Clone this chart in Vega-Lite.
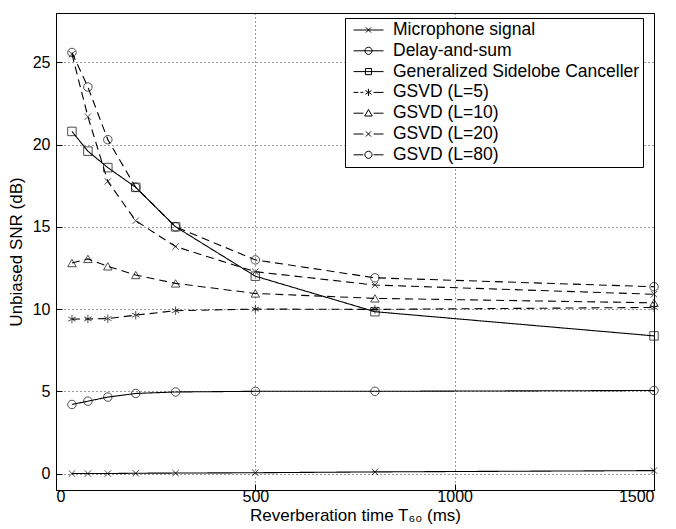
{
  "$schema": "https://vega.github.io/schema/vega-lite/v6.json",
  "width": 598,
  "height": 477,
  "autosize": {"type": "none"},
  "padding": {"left": 56, "top": 13, "right": 22, "bottom": 39},
  "background": "white",
  "config": {
    "view": {"stroke": "black", "strokeWidth": 1},
    "font": "Liberation Sans",
    "axis": {
      "labelFont": "Liberation Sans",
      "labelFontSize": 16,
      "labelColor": "black",
      "titleFont": "Liberation Sans",
      "titleFontSize": 17,
      "titleFontWeight": "normal",
      "titleColor": "black",
      "domainColor": "black",
      "tickColor": "black",
      "tickSize": -6,
      "labelPadding": 12,
      "grid": true,
      "gridColor": "black",
      "gridDash": [1, 3],
      "gridOpacity": 0.8,
      "gridWidth": 1
    },
    "legend": {
      "labelFont": "Liberation Sans",
      "labelFontSize": 17.5,
      "labelColor": "black",
      "labelLimit": 400
    }
  },
  "data": {
    "values": [
      {"series": "Microphone signal", "t": 40, "snr": 0.0},
      {"series": "Microphone signal", "t": 80, "snr": 0.0},
      {"series": "Microphone signal", "t": 130, "snr": 0.0},
      {"series": "Microphone signal", "t": 200, "snr": 0.02},
      {"series": "Microphone signal", "t": 300, "snr": 0.03},
      {"series": "Microphone signal", "t": 500, "snr": 0.05},
      {"series": "Microphone signal", "t": 800, "snr": 0.1},
      {"series": "Microphone signal", "t": 1500, "snr": 0.18},
      {"series": "Delay-and-sum", "t": 40, "snr": 4.2},
      {"series": "Delay-and-sum", "t": 80, "snr": 4.4},
      {"series": "Delay-and-sum", "t": 130, "snr": 4.65},
      {"series": "Delay-and-sum", "t": 200, "snr": 4.87},
      {"series": "Delay-and-sum", "t": 300, "snr": 4.96},
      {"series": "Delay-and-sum", "t": 500, "snr": 5.0},
      {"series": "Delay-and-sum", "t": 800, "snr": 5.0},
      {"series": "Delay-and-sum", "t": 1500, "snr": 5.05},
      {"series": "Generalized Sidelobe Canceller", "t": 40, "snr": 20.8},
      {"series": "Generalized Sidelobe Canceller", "t": 80, "snr": 19.6},
      {"series": "Generalized Sidelobe Canceller", "t": 130, "snr": 18.6},
      {"series": "Generalized Sidelobe Canceller", "t": 200, "snr": 17.4},
      {"series": "Generalized Sidelobe Canceller", "t": 300, "snr": 15.0},
      {"series": "Generalized Sidelobe Canceller", "t": 500, "snr": 12.0},
      {"series": "Generalized Sidelobe Canceller", "t": 800, "snr": 9.84},
      {"series": "Generalized Sidelobe Canceller", "t": 1500, "snr": 8.37},
      {"series": "GSVD (L=5)", "t": 40, "snr": 9.39},
      {"series": "GSVD (L=5)", "t": 80, "snr": 9.4},
      {"series": "GSVD (L=5)", "t": 130, "snr": 9.42},
      {"series": "GSVD (L=5)", "t": 200, "snr": 9.63},
      {"series": "GSVD (L=5)", "t": 300, "snr": 9.9},
      {"series": "GSVD (L=5)", "t": 500, "snr": 10.0},
      {"series": "GSVD (L=5)", "t": 800, "snr": 9.98},
      {"series": "GSVD (L=5)", "t": 1500, "snr": 10.1},
      {"series": "GSVD (L=10)", "t": 40, "snr": 12.8},
      {"series": "GSVD (L=10)", "t": 80, "snr": 13.05},
      {"series": "GSVD (L=10)", "t": 130, "snr": 12.6},
      {"series": "GSVD (L=10)", "t": 200, "snr": 12.07},
      {"series": "GSVD (L=10)", "t": 300, "snr": 11.56},
      {"series": "GSVD (L=10)", "t": 500, "snr": 10.95},
      {"series": "GSVD (L=10)", "t": 800, "snr": 10.65},
      {"series": "GSVD (L=10)", "t": 1500, "snr": 10.38},
      {"series": "GSVD (L=20)", "t": 40, "snr": 25.5},
      {"series": "GSVD (L=20)", "t": 80, "snr": 21.7},
      {"series": "GSVD (L=20)", "t": 130, "snr": 17.76},
      {"series": "GSVD (L=20)", "t": 200, "snr": 15.37},
      {"series": "GSVD (L=20)", "t": 300, "snr": 13.8},
      {"series": "GSVD (L=20)", "t": 500, "snr": 12.27},
      {"series": "GSVD (L=20)", "t": 800, "snr": 11.46},
      {"series": "GSVD (L=20)", "t": 1500, "snr": 10.9},
      {"series": "GSVD (L=80)", "t": 40, "snr": 25.6},
      {"series": "GSVD (L=80)", "t": 80, "snr": 23.5},
      {"series": "GSVD (L=80)", "t": 130, "snr": 20.3},
      {"series": "GSVD (L=80)", "t": 200, "snr": 17.4},
      {"series": "GSVD (L=80)", "t": 300, "snr": 15.0},
      {"series": "GSVD (L=80)", "t": 500, "snr": 12.99},
      {"series": "GSVD (L=80)", "t": 800, "snr": 11.9},
      {"series": "GSVD (L=80)", "t": 1500, "snr": 11.36}
    ]
  },
  "encoding": {
    "x": {
      "field": "t", "type": "quantitative",
      "scale": {"domain": [0, 1500], "nice": false},
      "axis": {"values": [0, 500, 1000, 1500], "format": "d", "title": "Reverberation time T₆₀ (ms)", "titleY": 30, "titleBaseline": "alphabetic", "labelPadding": 4}
    },
    "y": {
      "field": "snr", "type": "quantitative",
      "scale": {"domain": [-1, 28], "nice": false, "zero": false},
      "axis": {"values": [0, 5, 10, 15, 20, 25], "title": "Unbiased SNR (dB)", "titlePadding": 7}
    }
  },
  "layer": [
    {
      "mark": {"type": "line", "color": "black", "strokeWidth": 1.1},
      "encoding": {
        "detail": {"field": "series"},
        "strokeDash": {
          "field": "series",
          "scale": {
            "domain": ["Microphone signal", "Delay-and-sum", "Generalized Sidelobe Canceller", "GSVD (L=5)", "GSVD (L=10)", "GSVD (L=20)", "GSVD (L=80)"],
            "range": [[1, 0], [1, 0], [1, 0], [8, 5], [8, 5], [8, 5], [8, 5]]
          },
          "legend": null
        }
      }
    },
    {
      "mark": {"type": "point", "filled": false, "color": "black", "strokeWidth": 1, "size": 72},
      "encoding": {
        "shape": {
          "field": "series",
          "scale": {
            "domain": ["Microphone signal", "Delay-and-sum", "Generalized Sidelobe Canceller", "GSVD (L=5)", "GSVD (L=10)", "GSVD (L=20)", "GSVD (L=80)"],
            "range": ["M-0.75,-0.75L0.75,0.75M-0.75,0.75L0.75,-0.75", "circle", "square", "M0,-1V1M-0.87,-0.5L0.87,0.5M-0.87,0.5L0.87,-0.5", "triangle-up", "M-0.75,-0.75L0.75,0.75M-0.75,0.75L0.75,-0.75", "circle"]
          },
          "legend": null
        }
      }
    },
    {
      "mark": {"type": "point", "filled": false, "color": "black", "opacity": 0},
      "encoding": {
        "shape": {
          "field": "series",
          "scale": {
            "domain": ["Microphone signal", "Delay-and-sum", "Generalized Sidelobe Canceller", "GSVD (L=5)", "GSVD (L=10)", "GSVD (L=20)", "GSVD (L=80)"],
            "range": [
              "M-0.41,0H3.12M1.05,-0.3L1.65,0.3M1.05,0.3L1.65,-0.3",
              "M-0.41,0H3.12M1.77,0A0.42,0.42 0 1,1 0.93,0A0.42,0.42 0 1,1 1.77,0",
              "M-0.41,0H3.12M0.99,-0.36H1.71V0.36H0.99Z",
              "M-0.41,0H0.15M0.4,0H0.75M1.95,0H3.12M1.35,-0.42V0.42M0.99,-0.21L1.71,0.21M0.99,0.21L1.71,-0.21",
              "M-0.41,0H0.75M1.95,0H3.12M1.35,-0.44L1.79,0.33H0.91Z",
              "M-0.41,0H0.75M1.95,0H3.12M1.05,-0.3L1.65,0.3M1.05,0.3L1.65,-0.3",
              "M-0.41,0H0.75M1.95,0H3.12M1.77,0A0.42,0.42 0 1,1 0.93,0A0.42,0.42 0 1,1 1.77,0"
            ]
          },
          "legend": {
            "title": null,
            "orient": "none",
            "legendX": 289,
            "legendY": 5,
            "padding": 3,
            "fillColor": "white",
            "strokeColor": "black",
            "symbolSize": 289,
            "symbolOpacity": 1,
            "symbolStrokeColor": "black",
            "symbolFillColor": "transparent",
            "symbolStrokeWidth": 1,
            "rowPadding": 2.8,
            "labelOffset": 27
          }
        }
      }
    }
  ],
  "resolve": {"scale": {"shape": "independent"}}
}
